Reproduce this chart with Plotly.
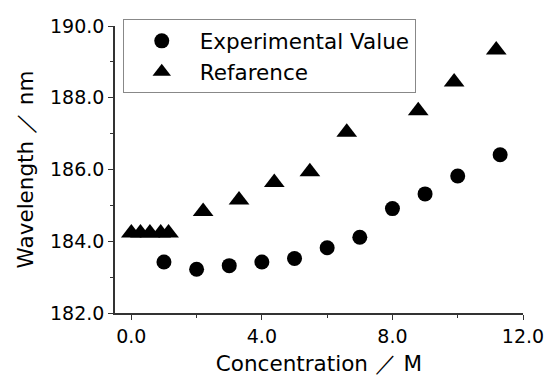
import plotly.graph_objects as go

exp_x = [1.0, 2.0, 3.0, 4.0, 5.0, 6.0, 7.0, 8.0, 9.0, 10.0, 11.3]
exp_y = [183.42, 183.22, 183.32, 183.42, 183.52, 183.82, 184.11, 184.91, 185.32, 185.82, 186.41]

ref_x = [0.0, 0.28, 0.57, 0.9, 1.14, 2.2, 3.3, 4.38, 5.47, 6.6, 8.79, 9.89, 11.18]
ref_y = [184.23, 184.23, 184.23, 184.23, 184.23, 184.83, 185.15, 185.64, 185.94, 187.04, 187.64, 188.44, 189.33]

FONT = "DejaVu Sans"

fig = go.Figure()
fig.add_trace(go.Scatter(x=exp_x, y=exp_y, mode="markers", name="Experimental Value",
                         marker=dict(symbol="circle", size=15, color="black")))
fig.add_trace(go.Scatter(x=ref_x, y=ref_y, mode="markers", name="Refarence",
                         marker=dict(symbol="triangle-up", size=18, color="black")))

axis_common = dict(showline=True, linecolor="#333333", linewidth=1.5, ticks="outside",
                   ticklen=5, tickwidth=1.2, tickcolor="#333333", showgrid=False,
                   zeroline=False, mirror=False, tickformat=".1f", automargin=False,
                   tickfont=dict(family=FONT, size=19, color="black"))

fig.update_layout(
    width=549, height=376,
    margin=dict(l=115, r=26, t=26, b=63),
    plot_bgcolor="white", paper_bgcolor="white",
    font=dict(family=FONT, size=19, color="black"),
    showlegend=True,
    legend=dict(x=0.019, y=1.023, xanchor="left", yanchor="top",
                bordercolor="#888888", borderwidth=1, bgcolor="white",
                itemwidth=66, font=dict(family=FONT, size=21.5, color="black"),
                tracegroupgap=0),
    xaxis=dict(range=[-0.5, 12.0], tick0=0, dtick=4,
               minor=dict(tick0=0, dtick=2, ticks="outside", ticklen=3, tickcolor="#333333"),
               title=dict(text="Concentration ／ M", standoff=12,
                          font=dict(family=FONT, size=21.5, color="black")),
               **axis_common),
    yaxis=dict(range=[182.0, 190.0], tick0=182, dtick=2,
               minor=dict(tick0=182, dtick=1, ticks="outside", ticklen=3, tickcolor="#333333"),
               title=dict(text="Wavelength ／ nm", standoff=11,
                          font=dict(family=FONT, size=21.5, color="black")),
               **axis_common),
)

fig.write_html("out.html")
